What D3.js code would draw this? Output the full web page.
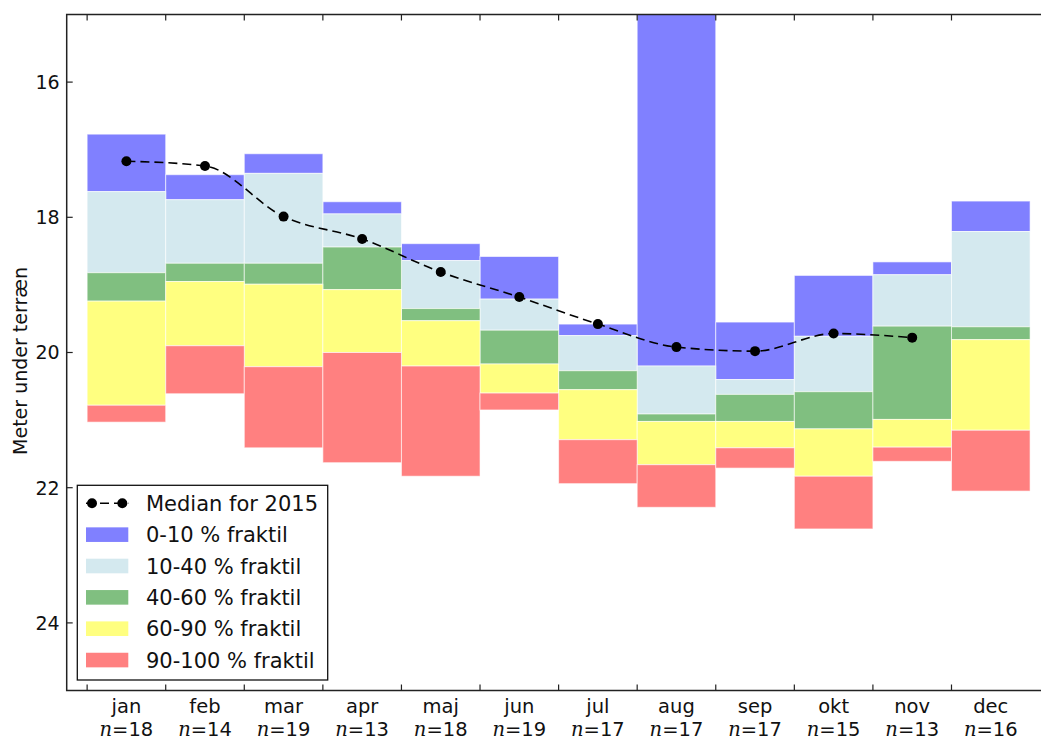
<!DOCTYPE html>
<html>
<head>
<meta charset="utf-8">
<script src="https://cdn.jsdelivr.net/npm/d3@7"></script>
<style>
  html, body { margin: 0; padding: 0; background: #fff; }
  svg { display: block; }
  text { font-family: "DejaVu Sans", sans-serif; fill: #111; }
</style>
</head>
<body>
<svg id="chart" width="1041" height="740"></svg>
<script>
// Monthly groundwater depth (metres below ground) – percentile bands per month
const months = ["jan","feb","mar","apr","maj","jun","jul","aug","sep","okt","nov","dec"];
const nObs   = [18, 14, 19, 13, 18, 19, 17, 17, 17, 15, 13, 16];

// Band boundaries per month (metres below ground)
const p0   = [16.77, 17.37, 17.06, 17.77, 18.39, 18.58, 19.58, 14.60, 19.55, 18.86, 18.66, 17.76];
const p10  = [17.62, 17.74, 17.35, 17.95, 18.64, 19.21, 19.75, 20.20, 20.40, 19.76, 18.85, 18.21];
const p40  = [18.82, 18.68, 18.68, 18.44, 19.35, 19.67, 20.27, 20.91, 20.62, 20.58, 19.61, 19.62];
const p60  = [19.24, 18.95, 18.99, 19.07, 19.53, 20.17, 20.55, 21.02, 21.02, 21.13, 20.99, 19.81];
const p90  = [20.78, 19.90, 20.21, 20.00, 20.20, 20.60, 21.29, 21.66, 21.41, 21.83, 21.40, 21.15];
const p100 = [21.03, 20.61, 21.41, 21.63, 21.83, 20.85, 21.94, 22.29, 21.71, 22.61, 21.61, 22.05];

// Median for 2015 (jan–nov)
const median2015 = [17.17, 17.24, 17.99, 18.32, 18.81, 19.18, 19.58, 19.92, 19.98, 19.72, 19.78];

const yTicks = [16, 18, 20, 22, 24];

const bandNames  = ["0-10 % fraktil", "10-40 % fraktil", "40-60 % fraktil", "60-90 % fraktil", "90-100 % fraktil"];
const bandColors = ["#8080ff", "#d4e9ef", "#80bf80", "#ffff80", "#ff8080"];
const bandEdges  = [p0, p10, p40, p60, p90, p100];

const svg = d3.select("#chart");
const plotL = 66.7, plotR = 1050.5, plotT = 14.5, plotB = 690.5;

const x = d3.scaleLinear().domain([-0.26, 12.26]).range([plotL, plotR]);
const y = d3.scaleLinear().domain([15, 25]).range([plotT, plotB]);

svg.append("defs").append("clipPath").attr("id", "plotclip")
  .append("rect").attr("x", plotL).attr("y", plotT)
  .attr("width", plotR - plotL).attr("height", plotB - plotT);

const plot = svg.append("g").attr("clip-path", "url(#plotclip)");

// Stacked percentile bands
bandNames.forEach((name, b) => {
  plot.append("g").selectAll("rect")
    .data(months)
    .join("rect")
    .attr("x", (m, i) => x(i))
    .attr("width", (m, i) => x(i + 1) - x(i))
    .attr("y", (m, i) => y(bandEdges[b][i]))
    .attr("height", (m, i) => y(bandEdges[b + 1][i]) - y(bandEdges[b][i]))
    .attr("fill", bandColors[b])
    .attr("stroke", "#ffffff")
    .attr("stroke-opacity", 0.6)
    .attr("stroke-width", 1);
});

// Median line (smoothed, dashed) and points
const line = d3.line()
  .x((d, i) => x(i + 0.5))
  .y(d => y(d))
  .curve(d3.curveMonotoneX);

plot.append("path")
  .datum(median2015)
  .attr("d", line)
  .attr("fill", "none")
  .attr("stroke", "#000")
  .attr("stroke-width", 1.6)
  .attr("stroke-dasharray", "9,5");

plot.append("g").selectAll("circle")
  .data(median2015)
  .join("circle")
  .attr("cx", (d, i) => x(i + 0.5))
  .attr("cy", d => y(d))
  .attr("r", 5)
  .attr("fill", "#000");

// Axes frame
svg.append("rect")
  .attr("x", plotL).attr("y", plotT)
  .attr("width", plotR - plotL).attr("height", plotB - plotT)
  .attr("fill", "none").attr("stroke", "#222").attr("stroke-width", 1.5);

// Y ticks (inward, both sides) and labels
const yAxis = svg.append("g");
yTicks.forEach(t => {
  yAxis.append("line").attr("x1", plotL).attr("x2", plotL + 6)
    .attr("y1", y(t)).attr("y2", y(t)).attr("stroke", "#222").attr("stroke-width", 1.2);
  yAxis.append("line").attr("x1", plotR).attr("x2", plotR - 6)
    .attr("y1", y(t)).attr("y2", y(t)).attr("stroke", "#222").attr("stroke-width", 1.2);
  yAxis.append("text")
    .attr("x", plotL - 7).attr("y", y(t))
    .attr("dy", "0.36em")
    .attr("text-anchor", "end")
    .style("font-size", "19px")
    .text(t);
});

// X ticks at bar edges (inward, top and bottom)
const xAxis = svg.append("g");
months.forEach((m, i) => {
  xAxis.append("line").attr("x1", x(i)).attr("x2", x(i))
    .attr("y1", plotB).attr("y2", plotB - 6).attr("stroke", "#222").attr("stroke-width", 1.2);
  xAxis.append("line").attr("x1", x(i)).attr("x2", x(i))
    .attr("y1", plotT).attr("y2", plotT + 6).attr("stroke", "#222").attr("stroke-width", 1.2);
});

// Month labels with observation counts
const labels = svg.append("g");
months.forEach((m, i) => {
  labels.append("text")
    .attr("x", x(i + 0.5)).attr("y", 713)
    .attr("text-anchor", "middle")
    .style("font-size", "19.5px")
    .text(m);
  const t = labels.append("text")
    .attr("x", x(i + 0.5)).attr("y", 736)
    .attr("text-anchor", "middle")
    .style("font-size", "19.5px");
  t.append("tspan")
    .style("font-family", "'DejaVu Serif', serif")
    .style("font-style", "italic")
    .text("n");
  t.append("tspan").text("=" + nObs[i]);
});

// Y axis title
svg.append("text")
  .attr("transform", "translate(27,361) rotate(-90)")
  .attr("text-anchor", "middle")
  .style("font-size", "19px")
  .text("Meter under terræn");

// Legend
const lg = svg.append("g");
lg.append("rect")
  .attr("x", 77.3).attr("y", 485.3)
  .attr("width", 250.4).attr("height", 194.7)
  .attr("fill", "#fff").attr("stroke", "#111").attr("stroke-width", 1.3);

const rowY = d3.range(6).map(k => 503.3 + k * 31.35);
const swX0 = 86, swX1 = 128.3, txtX = 146;

lg.append("line")
  .attr("x1", swX0).attr("x2", swX1).attr("y1", rowY[0]).attr("y2", rowY[0])
  .attr("stroke", "#000").attr("stroke-width", 1.6).attr("stroke-dasharray", "9,5");
[swX0 + 6, swX1 - 6].forEach(cx => {
  lg.append("circle").attr("cx", cx).attr("cy", rowY[0]).attr("r", 5).attr("fill", "#000");
});
lg.append("text").attr("x", txtX).attr("y", rowY[0]).attr("dy", "0.36em")
  .style("font-size", "21px").text("Median for 2015");

bandNames.forEach((name, b) => {
  const cy = rowY[b + 1];
  lg.append("rect")
    .attr("x", swX0).attr("y", cy - 7.3)
    .attr("width", swX1 - swX0).attr("height", 14.6)
    .attr("fill", bandColors[b]);
  lg.append("text").attr("x", txtX).attr("y", cy).attr("dy", "0.36em")
    .style("font-size", "21px").text(name);
});
</script>
</body>
</html>
